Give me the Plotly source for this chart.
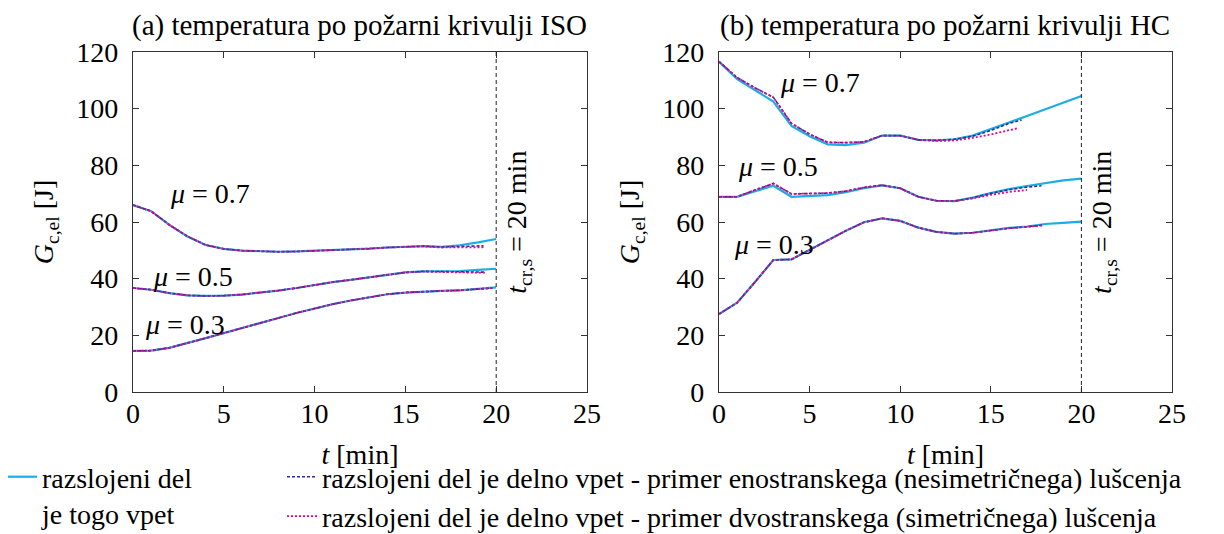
import plotly.graph_objects as go

# ---------------- data ----------------
t_full = list(range(0, 21))

# (a) ISO fire curve
iso_t_part07 = list(range(0, 20)) + [19.3]
iso_t_part05 = list(range(0, 20)) + [19.4]
iso_t_part03 = list(range(0, 20)) + [19.8]

iso_07_rigid = [66.0, 63.8, 59.0, 54.9, 51.9, 50.5, 49.9, 49.6, 49.5, 49.6, 49.8,
                50.0, 50.3, 50.6, 51.0, 51.3, 51.5, 51.2, 51.8, 52.8, 54.0]
iso_07_asym = [66.0, 63.8, 59.0, 54.9, 51.9, 50.5, 49.9, 49.6, 49.5, 49.6, 49.8,
               50.0, 50.3, 50.6, 51.0, 51.3, 51.5, 51.2, 51.4, 51.5, 51.6]
iso_07_sym = [66.0, 63.8, 59.0, 54.9, 51.9, 50.5, 49.9, 49.6, 49.5, 49.6, 49.8,
              50.0, 50.3, 50.6, 51.0, 51.3, 51.4, 51.0, 51.0, 51.1, 51.1]

iso_05_rigid = [36.7, 36.1, 34.9, 34.1, 33.9, 34.0, 34.4, 35.0, 35.8, 36.7, 37.8,
                38.8, 39.6, 40.5, 41.4, 42.2, 42.6, 42.6, 42.7, 43.1, 43.5]
iso_05_asym = [36.7, 36.1, 34.9, 34.1, 33.9, 34.0, 34.4, 35.0, 35.8, 36.7, 37.8,
               38.8, 39.6, 40.5, 41.4, 42.2, 42.6, 42.5, 42.4, 42.3, 42.3]
iso_05_sym = [36.7, 36.1, 34.9, 34.1, 33.9, 34.0, 34.4, 35.0, 35.8, 36.7, 37.8,
              38.8, 39.6, 40.5, 41.4, 42.2, 42.5, 42.3, 42.2, 42.1, 42.1]

iso_03_rigid = [14.5, 14.6, 15.6, 17.2, 19.0, 20.8, 22.5, 24.3, 26.1, 27.9, 29.5,
                31.0, 32.3, 33.5, 34.5, 35.1, 35.5, 35.7, 35.9, 36.3, 36.9]
iso_03_asym = [14.5, 14.6, 15.6, 17.2, 19.0, 20.8, 22.5, 24.3, 26.1, 27.9, 29.5,
               31.0, 32.3, 33.5, 34.5, 35.1, 35.5, 35.7, 35.9, 36.3, 36.7]
iso_03_sym = [14.5, 14.6, 15.6, 17.2, 19.0, 20.8, 22.5, 24.3, 26.1, 27.9, 29.5,
              31.0, 32.3, 33.5, 34.5, 35.1, 35.5, 35.7, 35.9, 36.3, 36.7]

# (b) HC fire curve
hc_t_part07_asym = list(range(0, 17)) + [16.7]
hc_t_part07_sym = list(range(0, 17)) + [16.5]
hc_t_part05_asym = list(range(0, 18)) + [17.8]
hc_t_part05_sym = list(range(0, 17)) + [17.0]
hc_t_part03 = list(range(0, 18)) + [17.9]

hc_07_rigid = [116.6, 110.4, 106.5, 102.5, 93.9, 90.3, 87.4, 87.1, 88.0, 90.5, 90.5,
               89.0, 88.8, 89.2, 90.5, 92.7, 95.1, 97.4, 99.8, 102.2, 104.5]
hc_07_asym = [116.6, 111.0, 107.3, 104.0, 94.8, 91.0, 88.1, 88.0, 88.3, 90.5, 90.5,
              89.0, 88.8, 89.2, 90.3, 92.3, 94.8, 96.0]
hc_07_sym = [116.6, 111.0, 107.3, 104.0, 94.8, 91.0, 88.1, 88.0, 88.3, 90.5, 90.5,
             89.0, 88.6, 88.8, 89.7, 90.9, 92.4, 93.1]

hc_05_rigid = [68.9, 68.9, 70.9, 72.8, 68.9, 69.2, 69.5, 70.5, 71.9, 72.9, 71.9,
               68.9, 67.5, 67.4, 68.6, 70.2, 71.6, 72.7, 73.8, 74.7, 75.3]
hc_05_asym = [68.9, 68.9, 71.3, 73.6, 69.9, 70.0, 70.2, 70.9, 72.2, 73.0, 71.9,
              68.9, 67.5, 67.4, 68.5, 70.1, 71.4, 72.3, 72.8]
hc_05_sym = [68.9, 68.9, 71.3, 73.6, 69.9, 70.0, 70.2, 70.9, 72.2, 73.0, 71.9,
             68.9, 67.5, 67.4, 68.3, 69.6, 70.6, 71.3]

hc_03_rigid = [27.5, 31.5, 38.9, 46.6, 46.8, 50.1, 53.6, 56.9, 59.9, 61.3, 60.4,
               58.0, 56.5, 55.9, 56.2, 57.1, 57.9, 58.4, 59.3, 59.7, 60.1]
hc_03_asym = [27.5, 31.5, 38.9, 46.6, 46.8, 50.1, 53.6, 56.9, 59.9, 61.3, 60.4,
              58.0, 56.5, 55.9, 56.2, 57.1, 57.8, 58.3, 58.9]
hc_03_sym = [27.5, 31.5, 38.9, 46.6, 46.8, 50.1, 53.6, 56.9, 59.9, 61.3, 60.4,
             58.0, 56.5, 55.9, 56.2, 57.1, 57.8, 58.3, 58.8]

t_cr = 20
x_ticks = [0, 5, 10, 15, 20, 25]
y_ticks = [0, 20, 40, 60, 80, 100, 120]

name_rigid = "razslojeni del<br>je togo vpet"
name_asym = "razslojeni del je delno vpet - primer enostranskega (nesimetričnega) lušcenja"
name_sym = "razslojeni del je delno vpet - primer dvostranskega (simetričnega) lušcenja"

C_RIGID = "#1AAEE6"
C_ASYM = "#2E3192"
C_SYM = "#EC008C"
FONT = "Times New Roman"
FS = 28

def f(size=FS):
    return dict(family=FONT, size=size, color="black")

fig = go.Figure()

def add_set(xa, ya, t_r, y_r, t_a, y_a, t_s, y_s, show):
    fig.add_trace(go.Scatter(x=t_r, y=y_r, mode="lines", xaxis=xa, yaxis=ya,
                             line=dict(color=C_RIGID, width=2.2),
                             name=name_rigid, legend="legend",
                             showlegend=show, legendgroup="r"))
    fig.add_trace(go.Scatter(x=t_a, y=y_a, mode="lines", xaxis=xa, yaxis=ya,
                             line=dict(color=C_ASYM, width=1.6, dash="3px,2px"),
                             name=name_asym, legend="legend2",
                             showlegend=show, legendgroup="a"))
    fig.add_trace(go.Scatter(x=t_s, y=y_s, mode="lines", xaxis=xa, yaxis=ya,
                             line=dict(color=C_SYM, width=1.8, dash="2px,2px"),
                             name=name_sym, legend="legend2",
                             showlegend=show, legendgroup="s"))

add_set("x", "y", t_full, iso_07_rigid, iso_t_part07, iso_07_asym, iso_t_part07, iso_07_sym, True)
add_set("x", "y", t_full, iso_05_rigid, iso_t_part05, iso_05_asym, iso_t_part05, iso_05_sym, False)
add_set("x", "y", t_full, iso_03_rigid, iso_t_part03, iso_03_asym, iso_t_part03, iso_03_sym, False)
add_set("x2", "y2", t_full, hc_07_rigid, hc_t_part07_asym, hc_07_asym, hc_t_part07_sym, hc_07_sym, False)
add_set("x2", "y2", t_full, hc_05_rigid, hc_t_part05_asym, hc_05_asym, hc_t_part05_sym, hc_05_sym, False)
add_set("x2", "y2", t_full, hc_03_rigid, hc_t_part03, hc_03_asym, hc_t_part03, hc_03_sym, False)

# page body has an 8px margin, so the figure is 8px smaller and positions are shifted by 8
OFF = 8
W, H = 1224 - OFF, 534 - OFF

def px(x):
    return (x - OFF) / W

def py(y):
    return (H - (y - OFF)) / H

ydom = [py(392), py(52)]

def axis(domain, anchor, ticks, is_x):
    return dict(
        domain=domain, anchor=anchor, range=[0, 25] if is_x else [0, 120], tickvals=ticks,
        showline=True, linecolor="#333333", linewidth=1.3, mirror="ticks",
        ticks="inside", ticklen=6, tickcolor="#333333", tickwidth=1,
        showgrid=False, zeroline=False, automargin=False,
        tickfont=f(),
        ticklabelstandoff=-4 if is_x else 8,
        title=dict(text="<i>t</i> [min]" if is_x else "<i>G</i><sub>c,el</sub> [J]",
                   standoff=16 if is_x else 14, font=f()),
    )

fig.update_layout(
    width=W, height=H,
    margin=dict(l=0, r=0, t=0, b=0, autoexpand=False),
    paper_bgcolor="white", plot_bgcolor="white",
    font=dict(family=FONT),
    xaxis=axis([px(133), px(587)], "y", x_ticks, True),
    yaxis=axis(ydom, "x", y_ticks, False),
    xaxis2=axis([px(719), px(1172)], "y2", x_ticks, True),
    yaxis2=axis(ydom, "x2", y_ticks, False),
    legend=dict(x=-6 / W, y=py(452), xanchor="left", yanchor="top", valign="top",
                font=f(), bgcolor="rgba(0,0,0,0)", itemwidth=30, tracegroupgap=0),
    legend2=dict(x=px(282), y=py(452), xanchor="left", yanchor="top",
                 font=f(), bgcolor="rgba(0,0,0,0)", itemwidth=30, tracegroupgap=0),
    showlegend=True,
)

for xr in ["x", "x2"]:
    yr = "y" if xr == "x" else "y2"
    fig.add_shape(type="line", xref=xr, yref=yr, x0=t_cr, x1=t_cr, y0=0, y1=120,
                  line=dict(color="#222222", width=1, dash="4px,3px"))

# titles
fig.add_annotation(text="(a) temperatura po požarni krivulji ISO", xref="paper", yref="paper",
                   x=px(359), y=py(26), xanchor="center", yanchor="middle",
                   showarrow=False, font=f(29))
fig.add_annotation(text="(b) temperatura po požarni krivulji HC", xref="paper", yref="paper",
                   x=px(945), y=py(26), xanchor="center", yanchor="middle",
                   showarrow=False, font=f(29))

mu_labels = [
    ("x", "y", 4.24, 70.2, "0.7"),
    ("x", "y", 3.31, 40.9, "0.5"),
    ("x", "y", 2.84, 24.0, "0.3"),
    ("x2", "y2", 5.57, 109.4, "0.7"),
    ("x2", "y2", 3.26, 79.5, "0.5"),
    ("x2", "y2", 3.04, 52.2, "0.3"),
]
for xr, yr, xv, yv, lab in mu_labels:
    fig.add_annotation(text=f"<i>μ</i> = {lab}", xref=xr, yref=yr, x=xv, y=yv,
                       xanchor="center", yanchor="middle",
                       showarrow=False, font=f())

for xr, yr in [("x", "y"), ("x2", "y2")]:
    fig.add_annotation(text="<i>t</i><sub>cr,s</sub> = 20 min", xref=xr, yref=yr,
                       x=t_cr, y=60, xanchor="left", yanchor="middle", xshift=2, textangle=-90,
                       showarrow=False, font=f())

fig.write_html("out.html")
